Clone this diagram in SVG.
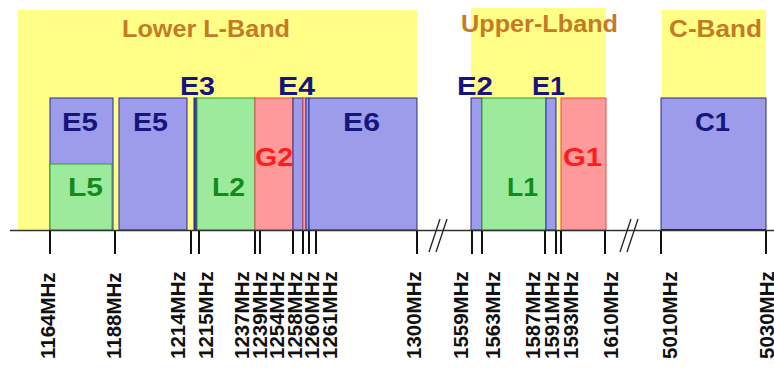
<svg xmlns="http://www.w3.org/2000/svg" width="774" height="368" viewBox="0 0 774 368">
  <style>
    .band { fill: #FFFF88; stroke: none; }
    .blue { fill: #9C9CEB; stroke: #2B2B8C; stroke-width: 1; }
    .green { fill: #9CEB9C; stroke: #3A9A3A; stroke-width: 1; }
    .red { fill: #FF9A9A; stroke: #E84848; stroke-width: 1; }
    text { font-family: "Liberation Sans", Arial, sans-serif; font-weight: bold; }
    .title { font-size: 23px; fill: #C67A24; }
    .lb { font-size: 26px; }
    .navy { fill: #15157C; }
    .grn { fill: #138A1C; }
    .rd { fill: #FF1C1C; }
    .freq { font-size: 20.5px; fill: #111; }
    .tick { stroke: #111; stroke-width: 2; }
    .axis { stroke: #333; stroke-width: 1.5; }
    .brk { stroke: #222; stroke-width: 1.3; fill: none; }
  </style>

  <!-- frequency bands (yellow backgrounds) -->
  <g id="lower-l-band">
    <rect class="band" x="18" y="10" width="399" height="220"/>
    <text class="title" x="122" y="37" textLength="168" lengthAdjust="spacingAndGlyphs">Lower L-Band</text>
  </g>
  <g id="upper-l-band">
    <rect class="band" x="471" y="8" width="135" height="224"/>
    <text class="title" x="461" y="32" textLength="157" lengthAdjust="spacingAndGlyphs">Upper-Lband</text>
  </g>
  <g id="c-band">
    <rect class="band" x="662" y="10" width="104" height="220"/>
    <text class="title" x="669" y="37" textLength="93" lengthAdjust="spacingAndGlyphs">C-Band</text>
  </g>

  <!-- signal blocks -->
  <g id="e5a">
    <rect class="blue" x="50" y="98" width="63" height="132"/>
    <text class="lb navy" x="62" y="131" textLength="36" lengthAdjust="spacingAndGlyphs">E5</text>
  </g>
  <g id="l5">
    <rect class="green" x="50" y="164" width="62" height="66"/>
    <text class="lb grn" x="68" y="196" textLength="35" lengthAdjust="spacingAndGlyphs">L5</text>
  </g>
  <g id="e5b">
    <rect class="blue" x="119" y="98" width="68" height="132"/>
    <text class="lb navy" x="133" y="131" textLength="35" lengthAdjust="spacingAndGlyphs">E5</text>
  </g>
  <g id="e3">
    <rect class="blue" x="194" y="98" width="3" height="132" style="fill:#3A3AA0"/>
    <text class="lb navy" x="180" y="95" textLength="35" lengthAdjust="spacingAndGlyphs">E3</text>
  </g>
  <g id="l2">
    <rect class="green" x="197" y="98" width="58" height="132"/>
    <text class="lb grn" x="212" y="196" textLength="33" lengthAdjust="spacingAndGlyphs">L2</text>
  </g>
  <g id="g2">
    <rect class="red" x="255" y="98" width="38" height="132"/>
    <text class="lb rd" x="255" y="166" textLength="38" lengthAdjust="spacingAndGlyphs">G2</text>
  </g>
  <g id="e4">
    <rect class="blue" x="293" y="98" width="10" height="132"/>
    <rect class="red" x="303" y="98" width="3" height="132"/>
    <rect class="blue" x="306" y="98" width="3" height="132"/>
    <text class="lb navy" x="278" y="95" textLength="37" lengthAdjust="spacingAndGlyphs">E4</text>
  </g>
  <g id="e6">
    <rect class="blue" x="309" y="98" width="108" height="132"/>
    <text class="lb navy" x="343" y="131" textLength="37" lengthAdjust="spacingAndGlyphs">E6</text>
  </g>
  <g id="e2">
    <rect class="blue" x="471" y="98" width="11" height="132"/>
    <text class="lb navy" x="457" y="95" textLength="36" lengthAdjust="spacingAndGlyphs">E2</text>
  </g>
  <g id="l1">
    <rect class="green" x="482" y="98" width="64" height="132"/>
    <text class="lb grn" x="507" y="196" textLength="31" lengthAdjust="spacingAndGlyphs">L1</text>
  </g>
  <g id="e1">
    <rect class="blue" x="546" y="98" width="10" height="132"/>
    <text class="lb navy" x="532" y="95" textLength="33" lengthAdjust="spacingAndGlyphs">E1</text>
  </g>
  <g id="g1">
    <rect class="red" x="561" y="98" width="45" height="132"/>
    <text class="lb rd" x="563" y="166" textLength="39" lengthAdjust="spacingAndGlyphs">G1</text>
  </g>
  <g id="c1">
    <rect class="blue" x="661" y="98" width="105" height="132"/>
    <line x1="661" y1="230" x2="766" y2="230" stroke="#1E1E70" stroke-width="2"/>
    <text class="lb navy" x="695" y="131" textLength="35" lengthAdjust="spacingAndGlyphs">C1</text>
  </g>

  <!-- frequency axis, ticks and break marks -->
  <g id="axis">
    <line class="axis" x1="10" y1="230.5" x2="774" y2="230.5"/>
    <g class="tick">
      <line x1="50" y1="231" x2="50" y2="254"/>
      <line x1="115" y1="231" x2="115" y2="254"/>
      <line x1="191" y1="231" x2="191" y2="254"/>
      <line x1="199" y1="231" x2="199" y2="254"/>
      <line x1="255" y1="231" x2="255" y2="254"/>
      <line x1="260" y1="231" x2="260" y2="254"/>
      <line x1="293" y1="231" x2="293" y2="254"/>
      <line x1="303" y1="231" x2="303" y2="254"/>
      <line x1="309" y1="231" x2="309" y2="254"/>
      <line x1="316" y1="231" x2="316" y2="254"/>
      <line x1="417" y1="231" x2="417" y2="254"/>
      <line x1="472" y1="231" x2="472" y2="254"/>
      <line x1="482" y1="231" x2="482" y2="254"/>
      <line x1="545" y1="231" x2="545" y2="254"/>
      <line x1="556" y1="231" x2="556" y2="254"/>
      <line x1="561" y1="231" x2="561" y2="254"/>
      <line x1="605" y1="231" x2="605" y2="254"/>
      <line x1="661" y1="231" x2="661" y2="254"/>
      <line x1="766" y1="231" x2="766" y2="254"/>
    </g>
    <path class="brk" d="M429 252 L440 219 M436 252 L447 219"/>
    <path class="brk" d="M620 252 L631 219 M627 252 L638 219"/>
  </g>

  <!-- frequency labels -->
  <g id="freq-labels" class="freq">
    <text transform="translate(55,359) rotate(-90)">1164MHz</text>
    <text transform="translate(121,359) rotate(-90)">1188MHz</text>
    <text transform="translate(185,359) rotate(-90)">1214MHz</text>
    <text transform="translate(213,359) rotate(-90)">1215MHz</text>
    <text transform="translate(249,359) rotate(-90)">1237MHz</text>
    <text transform="translate(267,359) rotate(-90)">1239MHz</text>
    <text transform="translate(284,359) rotate(-90)">1254MHz</text>
    <text transform="translate(302,359) rotate(-90)">1258MHz</text>
    <text transform="translate(319,359) rotate(-90)">1260MHz</text>
    <text transform="translate(337,359) rotate(-90)">1261MHz</text>
    <text transform="translate(421,359) rotate(-90)">1300MHz</text>
    <text transform="translate(468,359) rotate(-90)">1559MHz</text>
    <text transform="translate(500,359) rotate(-90)">1563MHz</text>
    <text transform="translate(540,359) rotate(-90)">1587MHz</text>
    <text transform="translate(559,359) rotate(-90)">1591MHz</text>
    <text transform="translate(578,359) rotate(-90)">1593MHz</text>
    <text transform="translate(618,359) rotate(-90)">1610MHz</text>
    <text transform="translate(677,359) rotate(-90)">5010MHz</text>
    <text transform="translate(774,359) rotate(-90)">5030MHz</text>
  </g>
</svg>
